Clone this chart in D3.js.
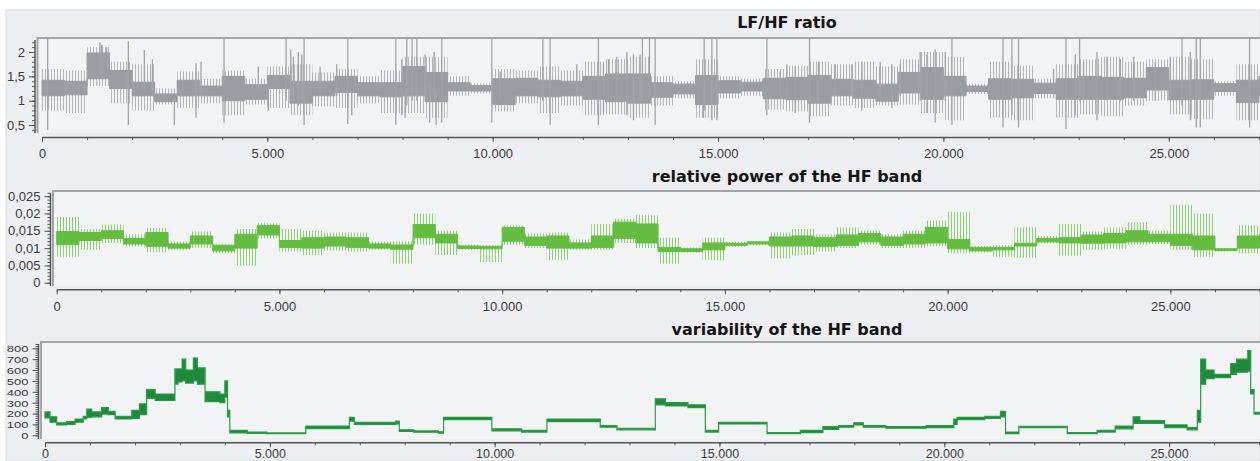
<!DOCTYPE html>
<html>
<head>
<meta charset="utf-8">
<script src="https://cdn.jsdelivr.net/npm/d3@7"></script>
<style>
  body { margin: 0; background: #fff; }
  svg { display: block; }
  .tick text { font-family: "Liberation Sans", Arial, sans-serif; font-size: 13px; fill: #3a3a3a; }
  .tick line { stroke: #555; }
  .domain { stroke: #555; stroke-width: 1.5; }
  .title { font-family: "DejaVu Sans", Verdana, sans-serif; font-weight: bold; font-size: 16px; fill: #151515; }
</style>
</head>
<body>
<div id="chart"></div>
<script>
var width  = 1260;
var height = 461;

// centre sample of each 500-sample window
var binMid = [250,750,1250,1750,2250,2750,3250,3750,4250,4750,5250,5750,6250,6750,7250,7750,
  8250,8750,9250,9750,10250,10750,11250,11750,12250,12750,13250,13750,14250,14750,15250,15750,
  16250,16750,17250,17750,18250,18750,19250,19750,20250,20750,21250,21750,22250,22750,23250,
  23750,24250,24750,25250,25750,26250,26750,27250];

// LF/HF ratio: dense band (lo/hi) and outer range (min/max) per window
var lfhfLo  = [1.10,1.12,1.45,1.25,1.10,0.98,1.10,1.10,1.00,1.03,1.25,0.95,1.10,1.17,1.10,1.08,1.10,0.98,1.20,1.20,
  0.92,1.10,1.08,1.10,1.03,0.98,0.95,1.07,1.14,0.92,1.16,1.20,1.04,1.02,0.95,1.10,1.05,0.99,1.16,1.03,
  1.10,1.19,1.03,1.06,1.15,1.03,1.03,1.03,1.06,1.22,1.02,1.03,1.19,0.96,1.10];
var lfhfHi  = [1.42,1.40,1.98,1.62,1.38,1.14,1.42,1.30,1.50,1.33,1.52,1.40,1.40,1.50,1.37,1.37,1.70,1.58,1.37,1.31,
  1.45,1.46,1.42,1.40,1.50,1.55,1.55,1.37,1.34,1.52,1.41,1.38,1.46,1.48,1.52,1.44,1.42,1.34,1.58,1.68,
  1.50,1.30,1.45,1.44,1.36,1.45,1.50,1.48,1.46,1.68,1.42,1.43,1.35,1.42,1.50];
var lfhfMin = [0.80,0.75,1.30,0.95,0.80,0.92,0.85,0.95,0.70,0.92,0.85,0.70,0.88,0.85,0.95,0.75,0.75,0.65,1.10,1.15,
  0.78,0.95,0.75,0.90,0.70,0.72,0.65,0.90,1.05,0.65,1.05,1.10,0.82,0.78,0.68,0.90,0.85,0.90,0.92,0.75,
  0.60,1.14,0.65,0.60,1.05,0.65,0.72,0.68,0.90,1.00,0.72,0.62,1.10,0.60,0.90];
var lfhfMax = [1.65,1.62,2.10,1.80,1.75,1.25,1.60,1.45,1.62,1.45,1.70,1.75,1.58,1.65,1.50,1.62,1.90,1.90,1.50,1.36,
  1.65,1.62,1.70,1.62,1.80,1.85,1.90,1.50,1.40,1.85,1.50,1.45,1.65,1.72,1.80,1.75,1.80,1.70,1.85,2.00,
  1.90,1.35,1.80,1.72,1.45,1.75,1.85,1.90,1.80,1.85,1.90,1.85,1.40,1.75,1.65];

// single LF/HF spikes: sample, lowest and highest value
var spikeX  = [126,4039,5415,5815,6784,7850,8094,8211,8316,8871,9980,11112,11274,12346,13322,13478,13604,
  14692,14863,14974,16083,17029,20189,21321,21520,21667,22719,23021,25293,25610,25699,26793,
  1287,1324,1435,1916,2271,2449,2937,3418,3529,4800,5023,5519,5577,5688,5764,6170,6540,6873,7983,8056,
  8500,8600,8700,8744,10164,11866,12457,12568,12754,12976,13123,13271,14676,16378,16526,16711,17228,
  17599,17969,18191,18597,18857,19041,19485,19634,19818,20040,22444,22925,23109,23406,23628,23924,
  24219,24700,25033,25477];
var spikeLo = [0.40,0.55,1.00,0.50,0.52,0.50,0.90,1.00,1.00,0.55,0.55,1.00,0.50,0.50,1.00,1.10,0.50,
  0.80,0.60,0.60,0.70,0.55,0.50,0.45,0.70,0.45,0.42,1.00,0.90,0.45,0.45,0.45,
  1.50,1.50,1.50,0.50,1.20,1.10,0.50,0.65,1.10,1.20,0.80,1.00,1.00,0.90,1.00,1.10,1.10,0.70,0.70,0.65,
  1.10,0.55,1.00,0.50,1.00,1.10,0.75,1.00,1.00,0.70,0.60,1.00,0.65,1.10,1.10,0.75,1.00,
  1.10,1.10,0.80,1.10,0.85,1.10,1.00,0.75,0.55,1.00,1.10,0.70,1.00,0.60,1.00,1.00,
  1.00,1.00,1.00,0.60];
var spikeHi = [2.35,2.35,2.35,2.35,2.35,2.35,2.35,2.35,2.35,2.35,2.35,2.35,2.35,2.35,2.35,2.35,2.35,
  2.35,2.35,2.35,2.35,2.35,2.35,2.35,2.35,2.35,2.35,2.35,2.35,2.35,2.35,2.35,
  2.20,2.15,2.10,2.22,2.04,1.85,1.10,1.77,1.80,1.70,1.30,2.05,1.90,2.00,1.95,1.70,1.75,1.20,1.85,1.20,
  1.95,1.30,2.00,1.20,1.60,1.75,1.75,1.85,1.90,2.00,1.95,1.95,1.20,1.60,1.75,1.70,1.80,
  1.75,1.75,1.80,1.80,1.75,1.75,2.00,1.95,2.05,2.00,1.65,1.95,1.80,2.00,1.90,1.85,
  1.90,1.80,1.90,2.00];

// relative power of the HF band
var hfLo  = [0.0110,0.0122,0.0128,0.0112,0.0105,0.0100,0.0112,0.0092,0.0100,0.0138,0.0102,0.0100,0.0106,0.0102,
  0.0100,0.0097,0.0130,0.0115,0.0099,0.0098,0.0120,0.0108,0.0100,0.0100,0.0102,0.0128,0.0115,0.0090,
  0.0090,0.0095,0.0108,0.0112,0.0106,0.0106,0.0105,0.0108,0.0118,0.0108,0.0112,0.0115,0.0098,0.0092,
  0.0095,0.0106,0.0118,0.0115,0.0114,0.0115,0.0118,0.0118,0.0108,0.0095,0.0093,0.0100,0.0110];
var hfHi  = [0.0148,0.0145,0.0150,0.0128,0.0145,0.0112,0.0135,0.0108,0.0140,0.0165,0.0122,0.0130,0.0132,0.0130,
  0.0112,0.0109,0.0168,0.0140,0.0106,0.0105,0.0160,0.0132,0.0135,0.0115,0.0135,0.0175,0.0170,0.0102,
  0.0098,0.0115,0.0114,0.0118,0.0132,0.0135,0.0130,0.0138,0.0142,0.0132,0.0140,0.0160,0.0125,0.0102,
  0.0102,0.0114,0.0128,0.0130,0.0138,0.0142,0.0150,0.0140,0.0140,0.0135,0.0098,0.0135,0.0140];
var hfMin = [0.0075,0.0095,0.0115,0.0105,0.0088,0.0095,0.0100,0.0085,0.0050,0.0128,0.0090,0.0080,0.0092,0.0090,
  0.0095,0.0055,0.0110,0.0080,0.0095,0.0060,0.0110,0.0100,0.0065,0.0095,0.0095,0.0115,0.0100,0.0055,
  0.0087,0.0065,0.0104,0.0108,0.0070,0.0080,0.0090,0.0100,0.0110,0.0100,0.0100,0.0105,0.0085,0.0088,
  0.0075,0.0072,0.0114,0.0078,0.0095,0.0098,0.0110,0.0112,0.0095,0.0075,0.0090,0.0085,0.0095];
var hfMax = [0.0190,0.0155,0.0168,0.0140,0.0158,0.0118,0.0148,0.0112,0.0155,0.0172,0.0155,0.0150,0.0145,0.0145,
  0.0118,0.0120,0.0200,0.0150,0.0110,0.0108,0.0165,0.0142,0.0145,0.0125,0.0170,0.0185,0.0195,0.0130,
  0.0102,0.0130,0.0118,0.0120,0.0145,0.0155,0.0140,0.0160,0.0150,0.0140,0.0150,0.0180,0.0205,0.0106,
  0.0108,0.0160,0.0135,0.0170,0.0148,0.0160,0.0175,0.0150,0.0225,0.0200,0.0100,0.0165,0.0160];

// variability of the HF band: level segments (start sample, low, high)
var varX  = [0,111,260,480,670,850,930,1040,1260,1410,1560,1930,2100,2260,2450,2890,2960,3050,3130,3300,3390,
  3560,3890,4000,4060,4110,4500,4933,5800,6770,6880,7800,7880,8200,8750,8864,9939,10600,11163,12349,12720,
  13573,13800,14300,14686,14982,16058,16800,17300,17650,17987,18200,18700,19600,20212,20286,20900,21250,
  21362,21659,22735,23400,23800,24200,24350,24900,25400,25628,25702,25813,26000,26369,26500,26750,26815,26889];
var varLo = [160,120,95,100,120,150,165,170,195,190,150,155,190,340,320,470,490,500,480,500,470,
  310,300,350,170,22,18,15,62,130,100,105,35,28,20,145,40,30,125,75,50,
  280,270,255,30,105,15,25,55,75,95,75,65,70,100,145,155,170,
  15,70,15,30,60,110,110,70,50,120,470,520,530,560,580,590,380,195];
var varHi = [215,170,115,125,150,175,240,215,255,220,175,230,290,420,380,610,610,700,600,710,620,
  400,380,500,230,45,30,22,85,165,120,130,50,40,32,165,60,45,150,90,65,
  335,300,280,45,120,25,45,80,90,115,90,80,90,150,165,175,220,
  30,82,25,45,85,170,135,95,70,230,700,600,560,660,700,780,420,210];

var xTicks    = [0,5000,10000,15000,20000,25000];
var lfhfTicks = [0.5,1,1.5,2];
var hfTicks   = [0,0.005,0.01,0.015,0.02,0.025];
var varTicks  = [0,100,200,300,400,500,600,700,800];

var de = d3.formatLocale({decimal: ",", thousands: ".", grouping: [3], currency: ["", ""]});
var fmtX = de.format(",");
var fmtY = de.format("~f");

var svg = d3.select("#chart").append("svg")
  .attr("width", width)
  .attr("height", height);

var defs = svg.append("defs");

svg.append("rect")
  .attr("x", 6).attr("y", 10)
  .attr("width", width - 6).attr("height", height - 10)
  .attr("fill", "#eceef1")
  .attr("stroke", "#d9dcdf");

function hatch(id, color) {
  var p = defs.append("pattern")
    .attr("id", id)
    .attr("patternUnits", "userSpaceOnUse")
    .attr("width", 3).attr("height", 6);
  p.append("rect").attr("width", 1).attr("height", 6).attr("fill", color);
}
hatch("hatchGray", "#b4b5b9");
hatch("hatchGreen", "#8fd072");

function rows(lo, hi, mn, mx) {
  var r = binMid.map(function(s, i) {
    return {s: s, lo: lo[i], hi: hi[i], mn: mn[i], mx: mx[i]};
  });
  r.unshift(Object.assign({}, r[0], {s: 0}));
  return r;
}

function panel(o) {
  var g = svg.append("g");
  var x = d3.scaleLinear().domain([0, 28000]).range([o.x0, 1304]);
  var y = d3.scaleLinear().domain(o.yDomain).range(o.yRange);

  g.append("rect")
    .attr("x", o.frameX).attr("y", o.top)
    .attr("width", width - o.frameX).attr("height", o.bottom - o.top)
    .attr("fill", "#f2f3f5");

  defs.append("clipPath").attr("id", o.id)
    .append("rect")
    .attr("x", o.frameX + 1).attr("y", o.top + 1)
    .attr("width", width - o.frameX).attr("height", o.bottom - o.top);

  var plot = g.append("g").attr("clip-path", "url(#" + o.id + ")");
  o.draw(plot, x, y);

  // frame
  g.append("path")
    .attr("d", "M" + width + "," + o.top + "H" + o.frameX + "V" + o.bottom)
    .attr("fill", "none")
    .attr("stroke", "#a3a5a8")
    .attr("stroke-width", 2);

  // y axis
  var ya = g.append("g").attr("transform", "translate(" + o.axisX + ",0)");
  ya.append("g").call(d3.axisLeft(y).tickValues(o.yMinor).tickSize(3).tickFormat(""))
    .select(".domain").remove();
  var yl = ya.append("g").call(d3.axisLeft(y).tickValues(o.yTicks).tickSize(6).tickPadding(4).tickFormat(fmtY));
  yl.select(".domain").remove();
  if (o.squeeze) {
    // stacked labels are squeezed vertically, as in the original
    yl.selectAll(".tick text")
      .attr("transform", "translate(-10,0) scale(1,0.72)")
      .attr("x", 0)
      .attr("dy", "0.36em");
  }
  ya.append("line")
    .attr("y1", o.top + 2).attr("y2", o.bottom)
    .attr("stroke", "#555").attr("stroke-width", 1.5);

  // x axis
  var xa = g.append("g").attr("transform", "translate(0," + o.xAxisY + ")");
  xa.append("g").call(d3.axisBottom(x).tickValues(d3.range(0, 28000, 1000)).tickSize(3).tickFormat(""))
    .select(".domain").remove();
  var xl = xa.append("g").call(d3.axisBottom(x).tickValues(xTicks).tickSize(5).tickSizeOuter(0)
    .tickPadding(o.xPad).tickFormat(fmtX));
  if (o.xFont) xl.selectAll(".tick text").style("font-size", o.xFont + "px");

  g.append("text")
    .attr("class", "title")
    .attr("x", 787).attr("y", o.titleY)
    .attr("text-anchor", "middle")
    .text(o.title);
}

function bands(plot, x, y, data, outerFill, coreFill) {
  var outer = d3.area()
    .curve(d3.curveStep)
    .x(function(d) { return x(d.s); })
    .y0(function(d) { return y(d.mn); })
    .y1(function(d) { return y(d.mx); });
  var core = d3.area()
    .curve(d3.curveStep)
    .x(function(d) { return x(d.s); })
    .y0(function(d) { return y(d.lo); })
    .y1(function(d) { return y(d.hi); });
  plot.append("path").datum(data).attr("d", outer).attr("fill", outerFill);
  plot.append("path").datum(data).attr("d", core).attr("fill", coreFill)
    .attr("stroke", coreFill).attr("stroke-width", 1);
}

panel({
  id: "clipA", title: "LF/HF ratio", titleY: 28,
  x0: 42, frameX: 37.5, axisX: 35, top: 38, bottom: 133, xAxisY: 137, xPad: 7,
  yDomain: [0.5, 2], yRange: [125.05, 52],
  yTicks: lfhfTicks, yMinor: d3.range(4, 23).map(function(v) { return v / 10; }),
  draw: function(plot, x, y) {
    bands(plot, x, y, rows(lfhfLo, lfhfHi, lfhfMin, lfhfMax), "url(#hatchGray)", "#9c9da2");
    plot.selectAll(".spike")
      .data(spikeX)
      .enter().append("line")
      .attr("class", "spike")
      .attr("x1", function(d) { return x(d); })
      .attr("x2", function(d) { return x(d); })
      .attr("y1", function(d, i) { return y(spikeLo[i]); })
      .attr("y2", function(d, i) { return y(spikeHi[i]); })
      .attr("stroke", "#a2a3a8")
      .attr("stroke-width", 1.3);
  }
});

panel({
  id: "clipB", title: "relative power of the HF band", titleY: 182,
  x0: 56.7, frameX: 53, axisX: 50.5, top: 191, bottom: 286, xAxisY: 289.3, xPad: 7,
  yDomain: [0, 0.025], yRange: [282.7, 196.2],
  yTicks: hfTicks, yMinor: d3.range(0, 27).map(function(v) { return v / 1000; }),
  draw: function(plot, x, y) {
    bands(plot, x, y, rows(hfLo, hfHi, hfMin, hfMax), "url(#hatchGreen)", "#64bd41");
  }
});

panel({
  id: "clipC", title: "variability of the HF band", titleY: 335,
  x0: 45, frameX: 41, axisX: 38.5, top: 342, bottom: 439, xAxisY: 442.3, xPad: 2, xFont: 12.5,
  squeeze: true,
  yDomain: [0, 800], yRange: [435.3, 348.3],
  yTicks: varTicks, yMinor: d3.range(0, 860, 20),
  draw: function(plot, x, y) {
    var data = varX.map(function(s, i) { return {s: s, lo: varLo[i], hi: varHi[i]}; });
    data.push(Object.assign({}, data[data.length - 1], {s: 28000}));
    var area = d3.area()
      .curve(d3.curveStepAfter)
      .x(function(d) { return x(d.s); })
      .y0(function(d) { return y(d.lo); })
      .y1(function(d) { return y(d.hi); });
    plot.append("path").datum(data)
      .attr("d", area)
      .attr("fill", "#1f8a3b")
      .attr("stroke", "#2b9a46")
      .attr("stroke-width", 1.2);
  }
});
</script>
</body>
</html>
